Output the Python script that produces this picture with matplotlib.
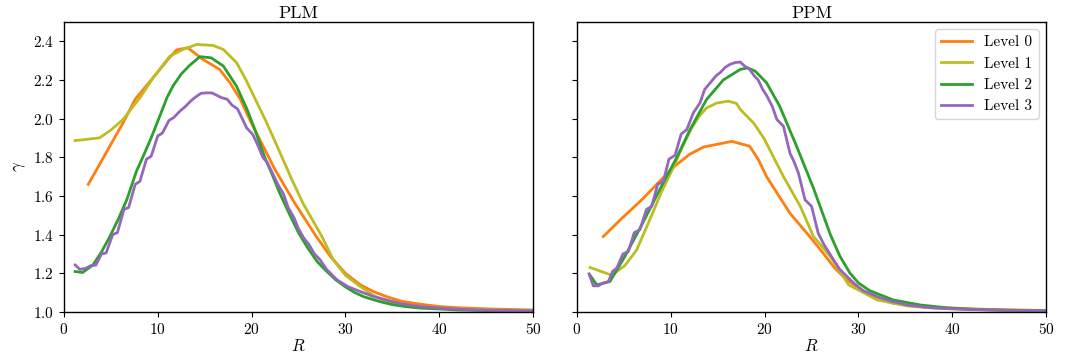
import matplotlib
matplotlib.use("Agg")
import matplotlib.pyplot as plt

plt.rcParams['font.family'] = 'serif'
plt.rcParams['font.serif'] = ['cmr10', 'DejaVu Serif']
plt.rcParams['mathtext.fontset'] = 'cm'
plt.rcParams['axes.formatter.use_mathtext'] = True
plt.rcParams['axes.unicode_minus'] = False
plt.rcParams['axes.linewidth'] = 1.0

labels = ["Level 0", "Level 1", "Level 2", "Level 3"]
colors = ["#ff7f0e", "#bcbd22", "#2ca02c", "#9467bd"]

# ---- PLM panel ----
plm_r0 = [2.6, 3.7, 5.0, 6.3, 7.6, 8.8, 10.0, 11.0, 12.0, 13.2, 14.8, 16.6, 17.7, 18.8, 19.8,
          21.2, 22.5, 24.6, 26.9, 28.4, 30.0, 31.6, 33.0, 34.4, 36.0, 38.0, 40.0, 42.0, 45.0, 50.0]
plm_g0 = [1.66, 1.754, 1.866, 1.977, 2.10, 2.17, 2.24, 2.30, 2.355, 2.366, 2.306, 2.254, 2.185, 2.10, 1.995,
          1.86, 1.736, 1.563, 1.39, 1.287, 1.20, 1.14, 1.105, 1.079, 1.055, 1.04, 1.028, 1.022, 1.016, 1.01]

plm_r1 = [1.2, 3.8, 5.0, 6.3, 7.5, 8.1, 9.5, 11.3, 12.7, 14.15, 15.9, 17.0, 18.4, 19.4, 20.6,
          21.5, 22.7, 24.3, 25.5, 27.5, 28.7, 30.0, 31.6, 33.0, 34.4, 36.0, 38.0, 40.0, 45.0, 50.0]
plm_g1 = [1.886, 1.90, 1.94, 1.995, 2.07, 2.107, 2.21, 2.323, 2.357, 2.383, 2.378, 2.357, 2.289, 2.20, 2.08,
          1.99, 1.86, 1.684, 1.56, 1.39, 1.27, 1.19, 1.131, 1.085, 1.053, 1.035, 1.024, 1.018, 1.01, 1.006]

plm_r2 = [1.2, 2.0, 3.1, 4.0, 4.9, 5.8, 6.7, 7.75, 8.5, 9.3, 10.2, 11.0, 11.65, 12.5, 13.4, 14.5, 15.7,
          17.0, 18.4, 19.5, 20.3, 21.4, 22.2, 23.0, 24.0, 25.0, 26.0, 27.0, 28.0, 29.0, 30.0, 31.0,
          32.0, 33.7, 35.0, 36.5, 38.0, 39.7, 42.0, 45.0, 50.0]
plm_g2 = [1.209, 1.204, 1.243, 1.31, 1.39, 1.48, 1.58, 1.73, 1.81, 1.90, 2.01, 2.11, 2.17, 2.23, 2.275, 2.32, 2.314,
          2.271, 2.167, 2.05, 1.95, 1.80, 1.71, 1.615, 1.51, 1.41, 1.33, 1.26, 1.21, 1.165, 1.13, 1.10,
          1.078, 1.053, 1.038, 1.027, 1.02, 1.016, 1.01, 1.007, 1.005]

plm_r3 = [1.2, 1.7, 2.3, 2.9, 3.4, 4.0, 4.5, 5.2, 5.7, 6.4, 6.9, 7.6, 8.1, 8.8, 9.3, 10.0, 10.5, 11.2, 11.7,
          12.4, 12.9, 13.5, 14.0, 14.6, 15.2, 15.8, 16.3, 16.8, 17.4, 17.9, 18.5, 19.0, 19.5, 20.1, 20.6,
          21.2, 21.7, 22.3, 22.8, 23.4, 23.9, 24.5, 25.0, 25.6, 26.1, 26.7, 27.3, 28.0, 29.1, 30.3, 31.6,
          33.0, 34.4, 36.0, 38.0, 40.0, 43.0, 46.0, 50.0]
plm_g3 = [1.243, 1.22, 1.225, 1.24, 1.242, 1.30, 1.305, 1.40, 1.41, 1.53, 1.54, 1.66, 1.675, 1.79, 1.805, 1.91,
          1.925, 1.99, 2.005, 2.04, 2.06, 2.09, 2.11, 2.13, 2.133, 2.132, 2.12, 2.108, 2.10, 2.07, 2.05, 2.00,
          1.95, 1.92, 1.87, 1.80, 1.77, 1.71, 1.66, 1.61, 1.54, 1.49, 1.43, 1.38, 1.35, 1.30, 1.27, 1.22,
          1.166, 1.13, 1.105, 1.08, 1.062, 1.042, 1.028, 1.02, 1.012, 1.008, 1.005]

# ---- PPM panel ----
ppm_r0 = [2.8, 4.8, 6.9, 8.7, 10.45, 12.0, 13.5, 16.5, 18.4, 19.3, 20.2, 22.7, 24.8, 26.3, 27.5, 28.75,
          30.9, 33.7, 36.0, 38.3, 42.0, 46.0, 50.0]
ppm_g0 = [1.39, 1.485, 1.58, 1.67, 1.755, 1.815, 1.853, 1.882, 1.857, 1.79, 1.70, 1.51, 1.39, 1.30, 1.225, 1.166,
          1.097, 1.045, 1.032, 1.024, 1.016, 1.01, 1.008]

ppm_r1 = [1.39, 3.7, 5.1, 6.35, 7.96, 9.0, 10.1, 11.2, 12.2, 13.0, 13.8, 14.9, 16.1, 17.0, 17.4, 18.8, 19.9,
          22.0, 23.8, 25.2, 27.0, 28.95, 32.0, 35.2, 38.0, 42.0, 46.0, 50.0]
ppm_g1 = [1.23, 1.19, 1.24, 1.32, 1.50, 1.62, 1.73, 1.85, 1.95, 2.01, 2.055, 2.08, 2.09, 2.078, 2.047, 1.978, 1.90,
          1.70, 1.546, 1.39, 1.287, 1.14, 1.062, 1.031, 1.02, 1.013, 1.01, 1.007]

ppm_r2 = [1.39, 2.1, 3.5, 5.1, 6.9, 9.0, 10.6, 12.05, 13.8, 15.6, 17.4, 18.2, 19.0, 20.2, 21.6, 23.4, 25.2,
          26.1, 27.0, 28.0, 29.1, 30.0, 31.2, 33.7, 36.6, 39.7, 43.0, 46.0, 50.0]
ppm_g2 = [1.19, 1.14, 1.157, 1.287, 1.45, 1.65, 1.796, 1.943, 2.098, 2.20, 2.254, 2.262, 2.245, 2.185, 2.064,
          1.857, 1.64, 1.52, 1.40, 1.29, 1.20, 1.15, 1.11, 1.062, 1.036, 1.02, 1.012, 1.009, 1.006]

ppm_r3 = [1.28, 1.74, 2.27, 2.8, 3.34, 3.8, 4.23, 4.9, 5.47, 6.1, 6.7, 7.4, 7.96, 8.6, 9.2, 9.8, 10.45, 11.1,
          11.7, 12.4, 13.1, 13.6, 14.2, 14.8, 15.25, 15.8, 16.3, 16.9, 17.4, 17.9, 18.4, 18.9, 19.3, 19.8,
          20.2, 20.8, 21.3, 22.0, 22.7, 23.1, 23.6, 24.3, 25.0, 25.7, 26.3, 27.2, 28.0, 29.5, 30.5, 32.0,
          33.5, 35.2, 37.0, 39.0, 42.0, 46.0, 50.0]
ppm_g3 = [1.197, 1.135, 1.135, 1.15, 1.157, 1.21, 1.226, 1.30, 1.312, 1.41, 1.425, 1.53, 1.546, 1.66, 1.675,
          1.79, 1.81, 1.92, 1.943, 2.03, 2.08, 2.15, 2.185, 2.22, 2.237, 2.265, 2.28, 2.29, 2.292, 2.27, 2.254,
          2.22, 2.20, 2.15, 2.12, 2.064, 1.995, 1.96, 1.82, 1.78, 1.718, 1.58, 1.546, 1.408, 1.35, 1.28, 1.22,
          1.149, 1.11, 1.079, 1.055, 1.036, 1.025, 1.018, 1.012, 1.008, 1.005]

panels = [
    ("PLM", [(plm_r0, plm_g0), (plm_r1, plm_g1), (plm_r2, plm_g2), (plm_r3, plm_g3)]),
    ("PPM", [(ppm_r0, ppm_g0), (ppm_r1, ppm_g1), (ppm_r2, ppm_g2), (ppm_r3, ppm_g3)]),
]

fig = plt.figure(figsize=(10.65, 3.64), dpi=100)
ax1 = fig.add_axes([0.060, 0.143, 0.4405, 0.797])
ax2 = fig.add_axes([0.5418, 0.143, 0.4405, 0.797], sharey=ax1)

for ax, (title, series) in zip([ax1, ax2], panels):
    for (r, g), lab, c in zip(series, labels, colors):
        ax.plot(r, g, color=c, lw=2, label=lab)
    ax.set_title(title, fontsize=13, pad=3)
    ax.set_xlabel("$R$", fontsize=12, labelpad=1)
    ax.set_xlim(0, 50)
    ax.set_ylim(1.0, 2.5)
    ax.set_xticks([0, 10, 20, 30, 40, 50])
    ax.set_yticks([1.0, 1.2, 1.4, 1.6, 1.8, 2.0, 2.2, 2.4])
    ax.tick_params(labelsize=11)

ax1.set_ylabel(r"$\gamma$", fontsize=12)
ax2.tick_params(labelleft=False)
ax2.legend(loc="upper right", fontsize=11)

fig.savefig("out.png", dpi=100)
